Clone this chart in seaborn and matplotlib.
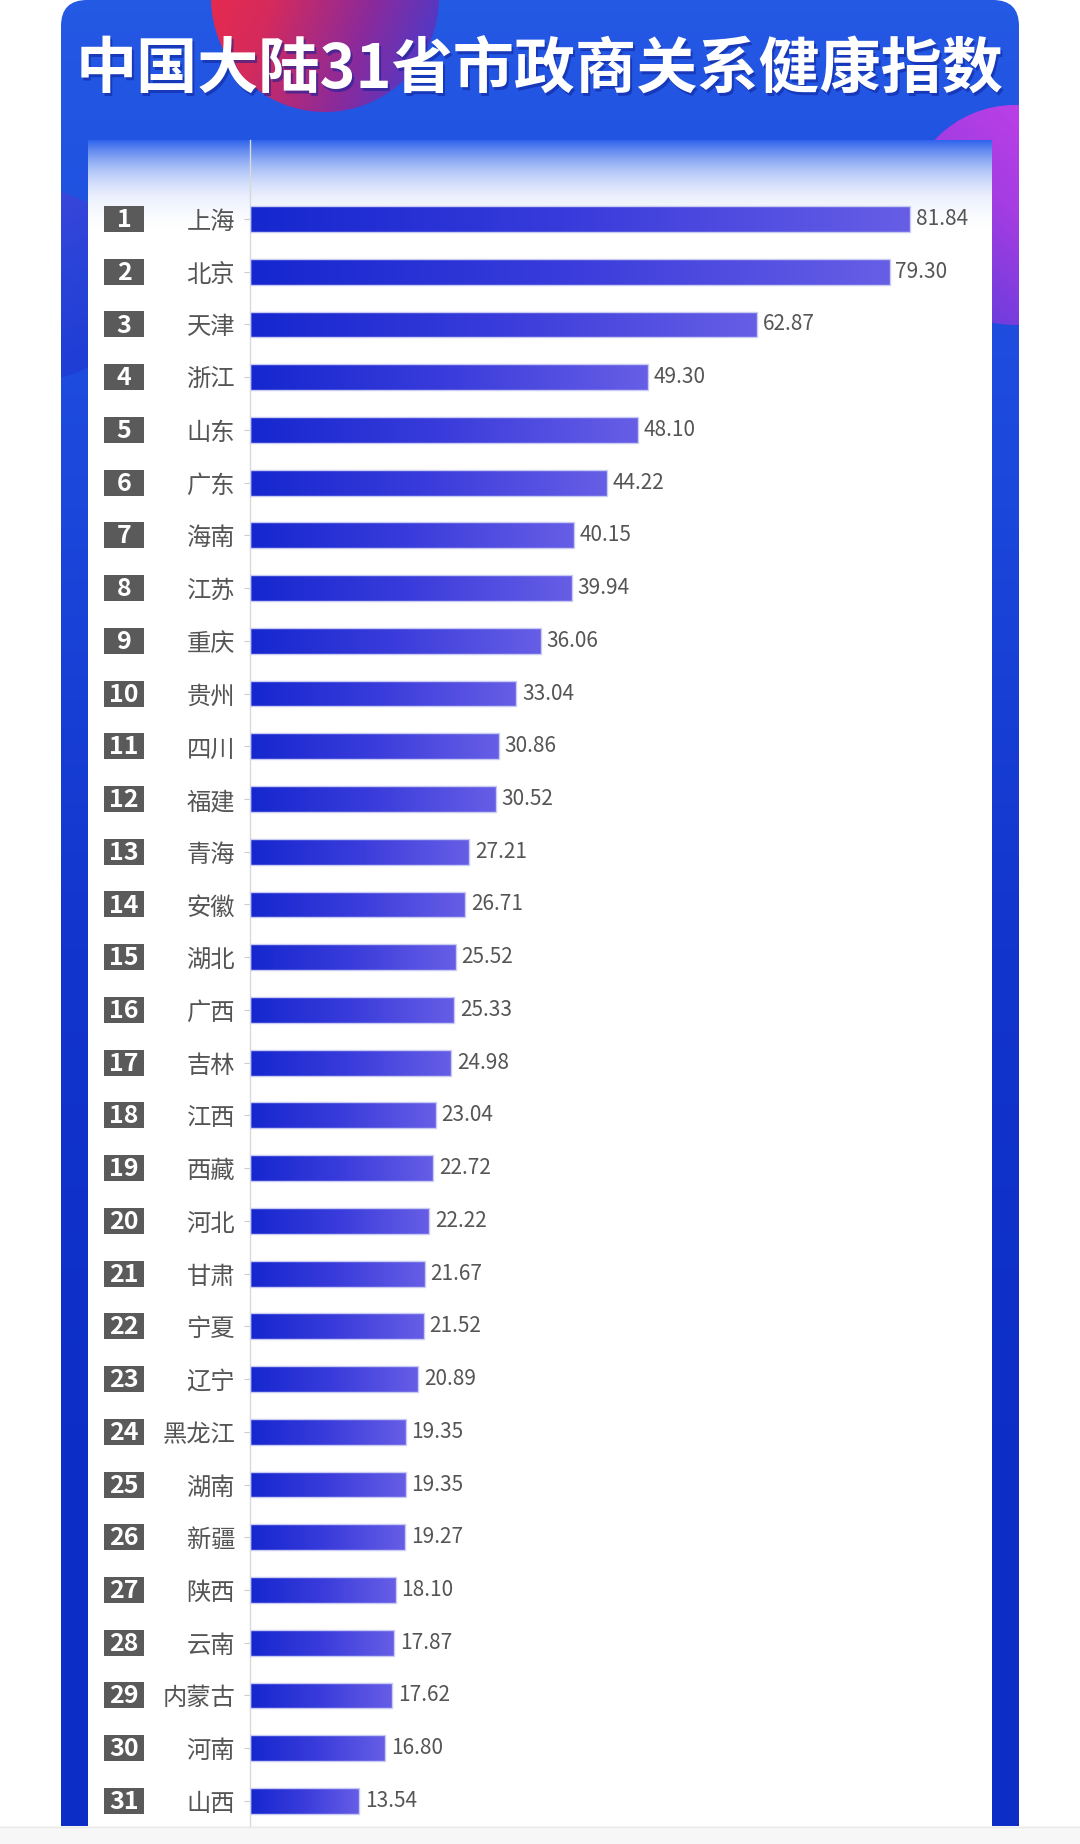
import numpy as np
import pandas as pd
import matplotlib
matplotlib.use("Agg")
import matplotlib.pyplot as plt
import seaborn as sns
from matplotlib.patches import FancyBboxPatch, Circle, Rectangle
from matplotlib.colors import LinearSegmentedColormap, to_rgb
from matplotlib.transforms import blended_transform_factory

# ---------------- data ----------------
title = "中国大陆31省市政商关系健康指数"
provinces = ["上海", "北京", "天津", "浙江", "山东", "广东", "海南", "江苏", "重庆", "贵州",
             "四川", "福建", "青海", "安徽", "湖北", "广西", "吉林", "江西", "西藏", "河北",
             "甘肃", "宁夏", "辽宁", "黑龙江", "湖南", "新疆", "陕西", "云南", "内蒙古", "河南",
             "山西"]
values = [81.84, 79.30, 62.87, 49.30, 48.10, 44.22, 40.15, 39.94, 36.06, 33.04,
          30.86, 30.52, 27.21, 26.71, 25.52, 25.33, 24.98, 23.04, 22.72, 22.22,
          21.67, 21.52, 20.89, 19.35, 19.35, 19.27, 18.10, 17.87, 17.62, 16.80,
          13.54]
ranks = list(range(1, len(provinces) + 1))

df = pd.DataFrame({"province": provinces, "value": values, "rank": ranks})

# ---------------- style ----------------
sns.set_theme(style="white")
plt.rcParams["font.family"] = ["Noto Sans CJK SC", "DejaVu Sans"]

W, H = 1080, 1844
fig = plt.figure(figsize=(W / 100, H / 100), dpi=100)
fig.patch.set_facecolor("white")

# background axes in pixel coordinates
bg = fig.add_axes([0, 0, 1, 1])
bg.set_xlim(0, W)
bg.set_ylim(H, 0)
bg.axis("off")

PANEL_L, PANEL_R, PANEL_B = 61, 1019, 1826
WHITE_L, WHITE_R, WHITE_T = 88, 992, 140

# blue panel with rounded top corners and vertical gradient
panel = FancyBboxPatch((PANEL_L, 0), PANEL_R - PANEL_L, 1900,
                       boxstyle="round,pad=0,rounding_size=26",
                       facecolor="none", edgecolor="none", zorder=1)
bg.add_patch(panel)
cmap_blue = LinearSegmentedColormap.from_list(
    "blue", ["#2459e4", "#1c48dc", "#1235cd", "#0d2fc7", "#0c2ec6"])
grad = np.linspace(0, 1, 256).reshape(-1, 1)
im = bg.imshow(grad, extent=(PANEL_L, PANEL_R, 1900, 0), cmap=cmap_blue,
               aspect="auto", zorder=1, interpolation="bilinear")
im.set_clip_path(panel)


def circle_gradient(cx, cy, r, colors, angle_deg, z=2, alpha=1.0):
    circ = Circle((cx, cy), r, facecolor="none", edgecolor="none",
                  transform=bg.transData)
    bg.add_patch(circ)
    n = 200
    xs = np.linspace(-1, 1, n)
    X, Y = np.meshgrid(xs, xs)
    a = np.deg2rad(angle_deg)
    t = (X * np.cos(a) + Y * np.sin(a)) / np.sqrt(2) * 0.5 + 0.5
    t = np.clip(t, 0, 1)
    cm = LinearSegmentedColormap.from_list("c", colors)
    img = bg.imshow(t, extent=(cx - r, cx + r, cy + r, cy - r), cmap=cm,
                    aspect="auto", zorder=z, alpha=alpha,
                    interpolation="bilinear")
    img.set_clip_path(circ)
    return img


# red decorative circle behind title
circle_gradient(325, -2, 114, ["#f02a46", "#d52a5c", "#8a2a9c", "#3a3fd6"], 20)
# purple circle at the right edge
circle_gradient(1015, 215, 110, ["#cf42ea", "#a43de2", "#4a3cd8"], 135)
# left subtle circle
circle_gradient(40, 285, 95, ["#4a48dc", "#2c42d8", "#1a3bd2"], 60, alpha=0.9)
# cover anything drawn outside the panel
bg.add_patch(Rectangle((PANEL_R, 0), W - PANEL_R, PANEL_B, facecolor="white",
                       edgecolor="none", zorder=3))
bg.add_patch(Rectangle((0, 0), PANEL_L, PANEL_B, facecolor="white",
                       edgecolor="none", zorder=3))

# white content panel
bg.add_patch(Rectangle((WHITE_L, WHITE_T), WHITE_R - WHITE_L, PANEL_B - WHITE_T,
                       facecolor="white", edgecolor="none", zorder=4))
# blue fading header on the white panel
nrow = 200
tt = np.linspace(0, 1, nrow)
alpha_col = np.clip(1 - tt, 0, 1) ** 1.6
rgba = np.zeros((nrow, 2, 4))
c0 = np.array(to_rgb("#2e63ec"))
c1 = np.array(to_rgb("#9fb8f6"))
for i, t in enumerate(tt):
    m = min(t * 1.6, 1)
    rgba[i, :, :3] = c0 * (1 - m) + c1 * m
    rgba[i, :, 3] = alpha_col[i]
bg.imshow(rgba, extent=(WHITE_L, WHITE_R, 232, WHITE_T), aspect="auto",
          zorder=5, interpolation="bilinear")

# light area under the panel
bg.add_patch(Rectangle((0, PANEL_B), W, H - PANEL_B, facecolor="#f7f7f7",
                       edgecolor="none", zorder=6))
bg.plot([0, W], [PANEL_B + 1, PANEL_B + 1], color="#eaeaea", lw=1, zorder=7)

# title with a soft dark shadow
bg.text(542, 74, title, fontsize=44, fontweight="bold", color="#0f2196",
        alpha=0.55, ha="center", va="center", zorder=8)
bg.text(540, 71, title, fontsize=44, fontweight="bold", color="white",
        ha="center", va="center", zorder=9)

# ---------------- bar chart ----------------
AX_L = 250
PX_PER_UNIT = 8.065
ROW0, ROW_SP = 219, 52.73
ax = fig.add_axes([AX_L / W, 1 - PANEL_B / H, (WHITE_R - AX_L) / W,
                   (PANEL_B - WHITE_T) / H])
ax.set_zorder(10)
ax.patch.set_alpha(0)

sns.barplot(data=df, x="value", y="province", orient="h", ax=ax,
            width=0.49, color="#3040d8", saturation=1)

bar_cmap = LinearSegmentedColormap.from_list("bar", ["#1527cf", "#3a3cdb", "#675ee6"])
hgrad = np.linspace(0, 1, 256).reshape(1, -1)
for p in ax.patches:
    x0, y0 = p.get_x(), p.get_y()
    w, h = p.get_width(), p.get_height()
    gi = ax.imshow(hgrad, extent=(x0, x0 + w, y0 + h, y0), cmap=bar_cmap,
                   aspect="auto", zorder=2, interpolation="bilinear")
    gi.set_clip_path(p)
    p.set_facecolor("none")
    p.set_edgecolor("#c9cbf3")
    p.set_linewidth(1.0)
    p.set_zorder(3)

ax.bar_label(ax.containers[0], labels=[f"{v:.2f}" for v in values],
             padding=4, fontsize=15, color="#555555")

ax.set_xlim(0, (WHITE_R - AX_L) / PX_PER_UNIT)
ax.set_ylim((PANEL_B - ROW0) / ROW_SP, -(ROW0 - WHITE_T) / ROW_SP)
ax.set_xlabel("")
ax.set_ylabel("")
ax.set_xticks([])
for s in ["top", "right", "bottom"]:
    ax.spines[s].set_visible(False)
ax.spines["left"].set_color("#d9d9d9")
ax.spines["left"].set_linewidth(1.0)
ax.tick_params(axis="y", labelsize=17.5, labelcolor="#555555", length=4,
               width=0.8, color="#cccccc", pad=6.8, left=True)

# rank boxes
trans = blended_transform_factory(bg.transData, ax.transData)
box_h = 26 / ROW_SP
for i, r in enumerate(ranks):
    ax.add_patch(Rectangle((104, i - box_h / 2), 40, box_h, transform=trans,
                           facecolor="#5a5a5a", edgecolor="none",
                           clip_on=False, zorder=4))
    ax.text(124, i + 0.02, str(r), transform=trans, ha="center", va="center",
            fontsize=18, fontweight="bold", color="white", clip_on=False,
            zorder=5)

fig.savefig("out.png", dpi=100, facecolor=fig.get_facecolor())
